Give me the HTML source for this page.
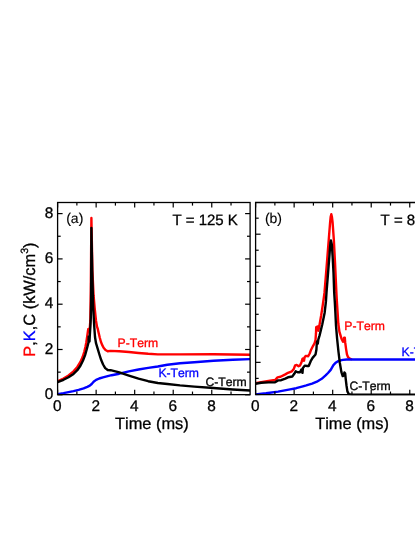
<!DOCTYPE html>
<html><head><meta charset="utf-8"><title>chart</title>
<style>
html,body{margin:0;padding:0;background:#fff;}
text{stroke-width:0.3px;}
svg{display:block;font-family:"Liberation Sans",sans-serif;font-kerning:none;text-rendering:geometricPrecision;will-change:transform;}
</style></head><body>
<svg width="415" height="537" viewBox="0 0 415 537">
<rect width="415" height="537" fill="#fff"/>
<defs>
<clipPath id="ca"><rect x="57.6" y="202.5" width="192.5" height="192.74999999999997"/></clipPath>
<clipPath id="cb"><rect x="255.6" y="202.5" width="170" height="192.74999999999997"/></clipPath>
</defs>
<g fill="none" stroke-linejoin="round" stroke-linecap="butt" stroke-width="2.4" clip-path="url(#ca)">
<polyline stroke="#f00" points="57.6,381.40 63.5,378.50 68.5,375.50 73.5,371.40 77.3,367.00 80.4,362.00 82.6,357.00 84.2,352.00 85.4,347.00 86.3,342.50 87.3,335.70 88.0,330.70 88.3,329.00 89.8,328.20 90.3,320.70 90.8,290.70 91.4,218.00 92.4,270.70 93.6,295.70 94.7,308.30 96,320.70 97,326.70 97.8,329.00 98.5,332.20 99.8,337.70 100.9,341.70 102,344.60 103.6,347.70 105.5,350.00 107.7,351.30 110.6,350.90 119.3,351.30 128.9,352.00 138.5,352.95 148.2,353.80 157.8,354.40 180,354.40 213.5,354.20 250.1,354.70"/>
<polyline stroke="#00f" points="57.6,394.10 63.5,393.10 68.5,392.10 73.5,391.10 78.6,389.80 83.6,388.30 87.3,386.80 89.8,385.60 91.7,384.00 93.6,381.80 96.1,379.90 99.2,378.50 103,377.30 105.8,376.60 111.6,375.20 119.3,373.70 128.9,371.40 138.5,369.50 148.2,367.90 157.8,366.50 167.4,364.70 180,363.20 194.3,362.30 213.5,360.70 232.8,359.80 250.1,359.15"/>
<polyline stroke="#000" points="57.6,382.20 63.5,379.80 68.5,377.30 73.5,373.90 77.3,370.20 80.4,365.80 82.9,360.80 85.1,355.10 86.7,349.50 88,344.50 88.5,342.50 88.7,336.50 89.5,341.50 89.8,335.50 90.3,327.70 90.8,317.70 91.1,300.70 91.4,228.00 92.2,270.70 93.2,307.70 94.2,325.70 95.0,337.00 96.0,343.20 97.5,348.20 99.4,354.50 101.2,360.10 103.1,364.50 105.2,368.10 107.7,370.00 110.6,370.20 115.4,371.30 119.3,372.40 128.9,375.60 138.5,378.60 148.2,381.20 157.8,383.05 167.4,384.00 180,385.40 194.3,386.60 213.5,388.00 232.8,389.50 250.1,390.55"/>
</g>
<g fill="none" stroke-linejoin="round" stroke-linecap="butt" stroke-width="2.4" clip-path="url(#cb)">
<polyline stroke="#f00" points="255.4,383.30 261.2,382.10 268.5,381.00 275.1,380.00 277.5,377.40 280.5,376.80 285.3,374.40 288,372.80 291.9,371.30 293.8,368.90 295.2,365.30 296.7,364.90 298.6,366.20 300,365.60 301.5,362.20 302.5,358.80 303.4,358.30 304,360.70 304.6,357.20 305.8,355.90 308.2,356.20 309.7,353.50 311.1,349.70 313.1,345.80 314.5,343.40 315.5,340.00 316,333.20 316.2,327.10 317.9,326.50 318.3,330.70 319.2,326.70 321.2,315.30 322.9,304.10 324,296.30 324.5,292.70 326.8,264.30 328.8,239.20 330.1,222.50 330.7,216.70 331.3,214.20 331.9,216.70 332.6,222.50 333.8,239.20 335.1,264.30 336.4,292.70 336.9,301.90 337.6,312.30 338.3,323.50 339.4,331.70 341.4,338.40 343,341.80 344.1,337.70 344.8,337.70 345.2,342.40 346.1,349.10 347,354.50 348.1,357.20 349.4,358.40 352,359.50"/>
<polyline stroke="#00f" points="255.4,394.50 266,393.30 278.1,391.60 290.1,389.40 296.2,388.20 303.8,386.10 306.3,385.40 312.1,383.60 316.9,381.70 321.7,378.80 325.6,375.40 328,373.00 330.7,369.90 333.4,365.15 336,362.45 338.7,360.85 342.7,359.85 346.8,359.45 416,359.45"/>
<polyline stroke="#000" points="255.4,383.70 261.2,382.80 268.5,382.40 275.1,382.20 278.1,380.40 281.1,380.20 285.3,378.60 288,377.30 292.3,376.50 294.3,373.80 295.7,371.30 297.6,372.30 300,372.30 301.5,369.40 302.5,372.80 302.9,368.00 304.9,365.60 307.3,366.00 308.7,366.00 310.7,361.20 312.6,357.90 315.5,354.50 316.4,349.70 316.7,344.80 317.2,341.20 317.8,343.70 318.3,339.70 319.6,335.40 322.3,324.20 324.6,313.00 325.9,301.90 326.5,292.70 328.1,272.70 329.4,256.00 330.4,242.60 330.9,240.50 331.8,244.20 332.6,256.00 333.5,272.70 334.2,292.70 334.8,301.90 335.4,313.00 336,325.70 337.1,338.60 338.5,352.00 339.8,362.70 341.4,372.10 342.7,376.10 343.8,375.50 344.4,372.40 345.2,373.50 345.7,378.80 346.5,385.50 347.4,391.40 348.8,394.10 351.5,394.70 416,394.70"/>
</g>
<g fill="none" stroke="#000" stroke-width="1.3">
<rect x="57.6" y="202.5" width="192.5" height="192.14999999999998"/>
<path d="M416,202.5 H255.6 V394.65 H416"/>
</g>
<g stroke="#000" stroke-width="1.2">
<line x1="57.60" y1="394.80" x2="62.60" y2="394.80"/><line x1="250.10" y1="394.80" x2="245.10" y2="394.80"/><line x1="57.60" y1="372.15" x2="60.70" y2="372.15"/><line x1="250.10" y1="372.15" x2="247.00" y2="372.15"/><line x1="57.60" y1="349.50" x2="62.60" y2="349.50"/><line x1="250.10" y1="349.50" x2="245.10" y2="349.50"/><line x1="57.60" y1="326.85" x2="60.70" y2="326.85"/><line x1="250.10" y1="326.85" x2="247.00" y2="326.85"/><line x1="57.60" y1="304.20" x2="62.60" y2="304.20"/><line x1="250.10" y1="304.20" x2="245.10" y2="304.20"/><line x1="57.60" y1="281.55" x2="60.70" y2="281.55"/><line x1="250.10" y1="281.55" x2="247.00" y2="281.55"/><line x1="57.60" y1="258.90" x2="62.60" y2="258.90"/><line x1="250.10" y1="258.90" x2="245.10" y2="258.90"/><line x1="57.60" y1="236.25" x2="60.70" y2="236.25"/><line x1="250.10" y1="236.25" x2="247.00" y2="236.25"/><line x1="57.60" y1="213.60" x2="62.60" y2="213.60"/><line x1="250.10" y1="213.60" x2="245.10" y2="213.60"/><line x1="57.60" y1="394.65" x2="57.60" y2="389.65"/><line x1="57.60" y1="202.50" x2="57.60" y2="207.50"/><line x1="76.87" y1="394.65" x2="76.87" y2="391.55"/><line x1="76.87" y1="202.50" x2="76.87" y2="205.60"/><line x1="96.14" y1="394.65" x2="96.14" y2="389.65"/><line x1="96.14" y1="202.50" x2="96.14" y2="207.50"/><line x1="115.41" y1="394.65" x2="115.41" y2="391.55"/><line x1="115.41" y1="202.50" x2="115.41" y2="205.60"/><line x1="134.68" y1="394.65" x2="134.68" y2="389.65"/><line x1="134.68" y1="202.50" x2="134.68" y2="207.50"/><line x1="153.95" y1="394.65" x2="153.95" y2="391.55"/><line x1="153.95" y1="202.50" x2="153.95" y2="205.60"/><line x1="173.22" y1="394.65" x2="173.22" y2="389.65"/><line x1="173.22" y1="202.50" x2="173.22" y2="207.50"/><line x1="192.49" y1="394.65" x2="192.49" y2="391.55"/><line x1="192.49" y1="202.50" x2="192.49" y2="205.60"/><line x1="211.76" y1="394.65" x2="211.76" y2="389.65"/><line x1="211.76" y1="202.50" x2="211.76" y2="207.50"/><line x1="231.03" y1="394.65" x2="231.03" y2="391.55"/><line x1="231.03" y1="202.50" x2="231.03" y2="205.60"/><line x1="255.60" y1="394.65" x2="255.60" y2="389.65"/><line x1="255.60" y1="202.50" x2="255.60" y2="207.50"/><line x1="274.87" y1="394.65" x2="274.87" y2="391.55"/><line x1="274.87" y1="202.50" x2="274.87" y2="205.60"/><line x1="294.14" y1="394.65" x2="294.14" y2="389.65"/><line x1="294.14" y1="202.50" x2="294.14" y2="207.50"/><line x1="313.41" y1="394.65" x2="313.41" y2="391.55"/><line x1="313.41" y1="202.50" x2="313.41" y2="205.60"/><line x1="332.68" y1="394.65" x2="332.68" y2="389.65"/><line x1="332.68" y1="202.50" x2="332.68" y2="207.50"/><line x1="351.95" y1="394.65" x2="351.95" y2="391.55"/><line x1="351.95" y1="202.50" x2="351.95" y2="205.60"/><line x1="371.22" y1="394.65" x2="371.22" y2="389.65"/><line x1="371.22" y1="202.50" x2="371.22" y2="207.50"/><line x1="390.49" y1="394.65" x2="390.49" y2="391.55"/><line x1="390.49" y1="202.50" x2="390.49" y2="205.60"/><line x1="409.76" y1="394.65" x2="409.76" y2="389.65"/><line x1="409.76" y1="202.50" x2="409.76" y2="207.50"/><line x1="255.60" y1="394.40" x2="260.60" y2="394.40"/><line x1="255.60" y1="378.38" x2="258.70" y2="378.38"/><line x1="255.60" y1="362.36" x2="260.60" y2="362.36"/><line x1="255.60" y1="346.34" x2="258.70" y2="346.34"/><line x1="255.60" y1="330.32" x2="260.60" y2="330.32"/><line x1="255.60" y1="314.30" x2="258.70" y2="314.30"/><line x1="255.60" y1="298.28" x2="260.60" y2="298.28"/><line x1="255.60" y1="282.26" x2="258.70" y2="282.26"/><line x1="255.60" y1="266.24" x2="260.60" y2="266.24"/><line x1="255.60" y1="250.22" x2="258.70" y2="250.22"/><line x1="255.60" y1="234.20" x2="260.60" y2="234.20"/><line x1="255.60" y1="218.18" x2="258.70" y2="218.18"/>
</g>
<g font-size="15.4" fill="#000" stroke="#000">
<text x="57.3" y="410.9" text-anchor="middle">0</text><text x="255.3" y="410.9" text-anchor="middle">0</text><text x="95.8" y="410.9" text-anchor="middle">2</text><text x="293.8" y="410.9" text-anchor="middle">2</text><text x="134.4" y="410.9" text-anchor="middle">4</text><text x="332.4" y="410.9" text-anchor="middle">4</text><text x="172.9" y="410.9" text-anchor="middle">6</text><text x="370.9" y="410.9" text-anchor="middle">6</text><text x="211.5" y="410.9" text-anchor="middle">8</text><text x="409.5" y="410.9" text-anchor="middle">8</text>
<text x="53.3" y="398.8" text-anchor="end">0</text><text x="53.3" y="353.5" text-anchor="end">2</text><text x="53.3" y="308.2" text-anchor="end">4</text><text x="53.3" y="262.9" text-anchor="end">6</text><text x="53.3" y="217.6" text-anchor="end">8</text>
</g>
<g font-size="16.4" fill="#000" stroke="#000">
<text x="115" y="428.9">Time (ms)</text>
<text x="315.2" y="428.9">Time (ms)</text>
<text transform="translate(34.6,356.7) rotate(-90)"><tspan fill="#f00" stroke="#f00">P</tspan>,<tspan fill="#00f" stroke="#00f">K</tspan>,C (kW/cm<tspan font-size="10.5" dy="-6.5">3</tspan><tspan dy="6.5">)</tspan></text>
</g>
<g font-size="15" fill="#000" stroke="#000">
<text x="172.4" y="224.9">T = 125 K</text>
<text x="380.6" y="224.9">T = 85 K</text>
</g>
<g font-size="14" fill="#000" stroke="#000">
<text style="stroke-width:0.12px" x="66.2" y="223.2">(a)</text>
<text style="stroke-width:0.12px" x="264.9" y="223.2">(b)</text>
</g>
<g font-size="12.2">
<text x="117.5" y="346.7" fill="#f00" stroke="#f00">P-Term</text>
<text x="158.4" y="376.9" fill="#00f" stroke="#00f">K-Term</text>
<text x="205.4" y="385.8" fill="#000" stroke="#000">C-Term</text>
<text x="344.3" y="330.2" fill="#f00" stroke="#f00">P-Term</text>
<text x="401.5" y="355.6" fill="#00f" stroke="#00f">K-Term</text>
<text x="349.4" y="390.0" fill="#000" stroke="#000">C-Term</text>
</g>
</svg>
</body></html>
